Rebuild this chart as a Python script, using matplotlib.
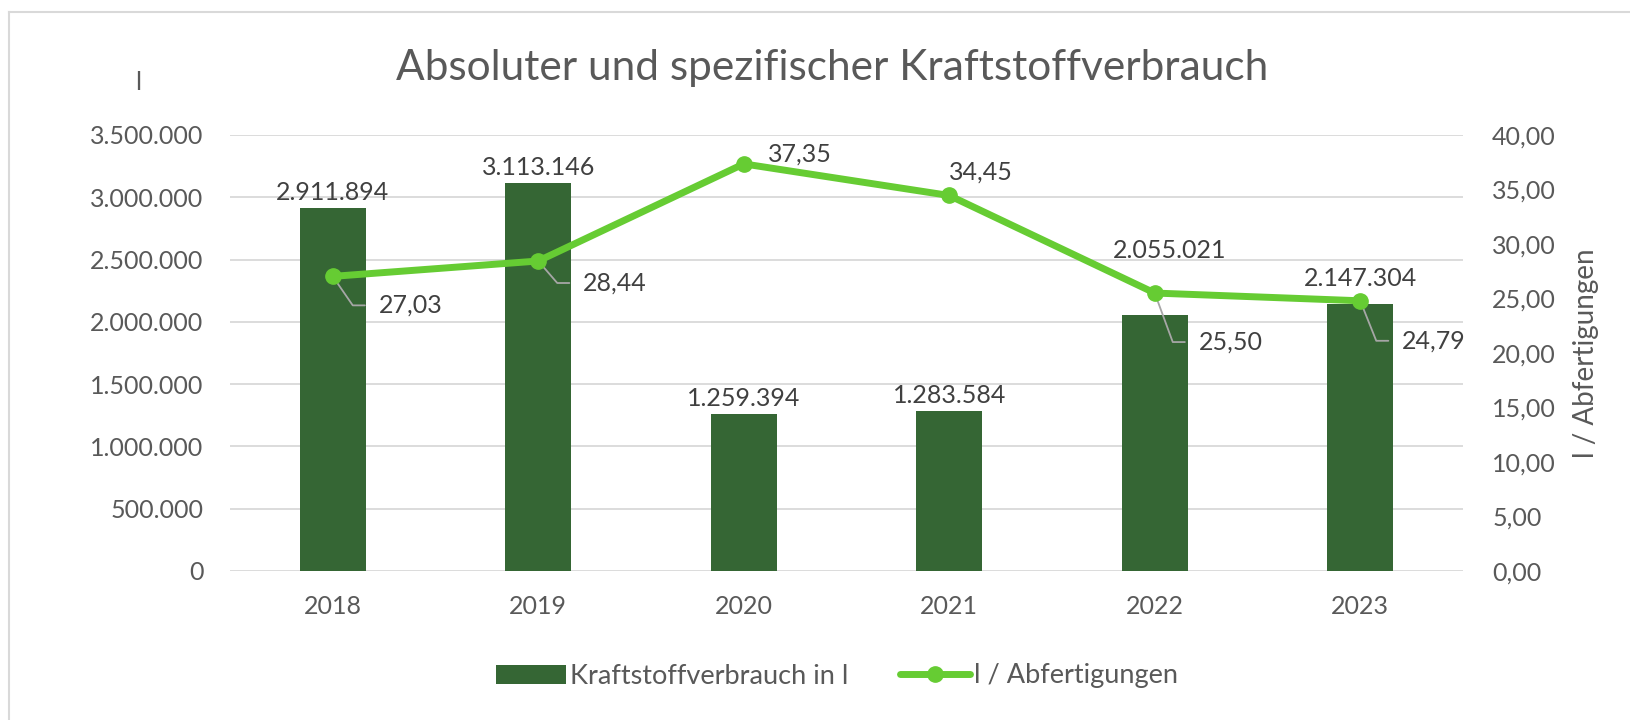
import math
import matplotlib
matplotlib.use("Agg")
import matplotlib.pyplot as plt
from matplotlib.lines import Line2D

plt.rcParams['font.family'] = ['Lato', 'DejaVu Sans']

years = ['2018', '2019', '2020', '2021', '2022', '2023']
fuel_l = [2911894, 3113146, 1259394, 1283584, 2055021, 2147304]
l_per_dispatch = [27.03, 28.44, 37.35, 34.45, 25.50, 24.79]
left_ticks = [0, 500000, 1000000, 1500000, 2000000, 2500000, 3000000, 3500000]
right_ticks = [0, 5, 10, 15, 20, 25, 30, 35, 40]

# label placement (pixels): bar labels (dx, dy above bar top), line labels (dx, dy, leader)
bar_lab_off = [(0, 16), (0, 16), (0, 16), (0, 16), (15, 65), (0, 25)]
line_lab_off = [(46, -29, True), (45, -22, True), (24, 10, False),
                (0, 23, False), (44, -49, True), (42, -40, True)]

BAR = '#356634'
LINE = '#66CC33'
GRID = '#D9D9D9'
TXT = '#595959'
LAB = '#404040'

W, H = 1631, 720
fig = plt.figure(figsize=(W / 100, H / 100), dpi=100)
ax = fig.add_axes([230 / W, (H - 571) / H, 1233 / W, 436 / H])
ax2 = ax.twinx()

x = list(range(len(years)))
bars = ax.bar(x, fuel_l, width=0.32, color=BAR, label='Kraftstoffverbrauch in l', zorder=2)
ln, = ax2.plot(x, l_per_dispatch, color=LINE, lw=5, marker='o', ms=11,
               solid_capstyle='round', label='l / Abfertigungen', zorder=3)

ax.set_xlim(-0.5, len(years) - 0.5)
ax.set_ylim(0, 3500000)
ax2.set_ylim(0, 40)
ax.set_xticks(x, years)
ax.set_yticks(left_ticks, [f"{v:,.0f}".replace(',', '.') for v in left_ticks])
ax2.set_yticks(right_ticks, [f"{v:.2f}".replace('.', ',') for v in right_ticks])

ax.grid(axis='y', color=GRID, lw=1.3)
ax.set_axisbelow(True)
for a in (ax, ax2):
    for s in a.spines.values():
        s.set_visible(False)
ax.tick_params(axis='y', length=0, pad=19, labelsize=18, labelcolor=TXT)
ax.tick_params(axis='x', length=0, pad=17, labelsize=18, labelcolor=TXT)
ax2.tick_params(axis='y', length=0, pad=21, labelsize=18, labelcolor=TXT)

for i, v in enumerate(fuel_l):
    dx, dy = bar_lab_off[i]
    ax.annotate(f"{v:,.0f}".replace(',', '.'), (i, v), xytext=(dx, dy),
                textcoords='offset pixels', ha='center', va='center',
                fontsize=18, color=LAB)

for i, v in enumerate(l_per_dispatch):
    dx, dy, leader = line_lab_off[i]
    txt = f"{v:.2f}".replace('.', ',')
    if leader:
        ang = math.degrees(math.atan2(dy, dx - 26))
        ax2.annotate(txt, (i, v), xytext=(dx, dy), textcoords='offset pixels',
                     ha='left', va='center', fontsize=18, color=LAB, zorder=2.5,
                     arrowprops=dict(arrowstyle='-', color='#A6A6A6', lw=1.3,
                                     shrinkA=8, shrinkB=0, relpos=(0, 0.5),
                                     connectionstyle=f"angle,angleA=0,angleB={ang},rad=0"))
    else:
        ax2.annotate(txt, (i, v), xytext=(dx, dy), textcoords='offset pixels',
                     ha='left', va='center', fontsize=18, color=LAB)

ax2.set_ylabel('l / Abfertigungen', fontsize=20, color=TXT, labelpad=12)

fig.text(832 / W, 1 - 68 / H, 'Absoluter und spezifischer Kraftstoffverbrauch',
         ha='center', va='center', fontsize=30.5, color=TXT)
fig.text(138 / W, 1 - 82 / H, 'l', ha='center', va='center', fontsize=18, color=TXT)

fig.legend(handles=[bars, ln], loc='center', bbox_to_anchor=(837 / W, 1 - 676 / H),
           ncol=2, frameon=False, fontsize=19.5, labelcolor=TXT, handlelength=2.6,
           handletextpad=0.15, columnspacing=1.9, handleheight=0.7)

# chart frame (cut off at right and bottom like the source)
fig.add_artist(Line2D([9 / W, 1], [1 - 12 / H, 1 - 12 / H], color=GRID, lw=1.5))
fig.add_artist(Line2D([9 / W, 9 / W], [0, 1 - 12 / H], color=GRID, lw=1.5))

fig.savefig('out.png', dpi=100, facecolor='white')
